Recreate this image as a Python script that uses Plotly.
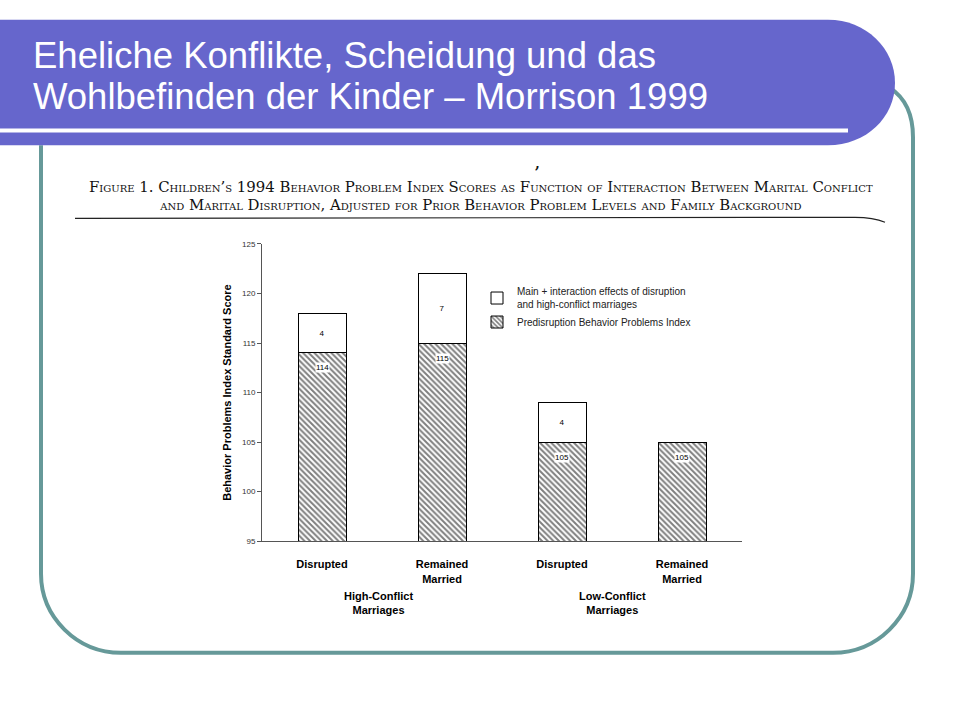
import plotly.graph_objects as go

W, H = 960, 720

# ---------------- data ----------------
groups = ["High-Conflict<br>Marriages", "Low-Conflict<br>Marriages"]
group_of_bar = [0, 0, 1, 1]
status = ["Disrupted", "Remained<br>Married", "Disrupted", "Remained<br>Married"]
predisruption = [114, 115, 105, 105]
effects = [4, 7, 4, 0]
y_ticks = [95, 100, 105, 110, 115, 120, 125]
y_range = [95, 125]

slide_title_lines = ["Eheliche Konflikte, Scheidung und das",
                     "Wohlbefinden der Kinder – Morrison 1999"]
fig_title_1 = ("Figure 1. Children’s 1994 Behavior Problem Index Scores as Function of "
               "Interaction Between Marital Conflict")
fig_title_2 = ("and Marital Disruption, Adjusted for Prior Behavior Problem Levels "
               "and Family Background")
legend_effects = "Main + interaction effects of disruption<br>and high-conflict marriages"
legend_pre = "Predisruption Behavior Problems Index"
y_title = "Behavior Problems Index Standard Score"

# ---------------- helpers ----------------
def px(x):
    return x / W

def py(y):
    return 1 - y / H

def pt(x, y):
    return f"{x / W:.5f},{1 - y / H:.5f}"

SANS = "Liberation Sans, Arial, sans-serif"
SERIF = "DejaVu Serif, Liberation Serif, serif"
BANNER = "#6666CC"
TEAL = "#669999"

x_pos = list(range(len(status)))

fig = go.Figure()

fig.add_trace(go.Bar(
    x=x_pos, y=predisruption, name=legend_pre, width=0.4,
    marker=dict(color="white", line=dict(color="black", width=1),
                pattern=dict(shape="\\", fgcolor="black", bgcolor="white",
                             size=4, solidity=0.5)),
    hoverinfo="skip",
))
fig.add_trace(go.Bar(
    x=x_pos, y=effects, name=legend_effects, width=0.4,
    marker=dict(color="white", line=dict(color="black", width=1)),
    text=[str(v) if v else "" for v in effects], textposition="inside",
    insidetextanchor="middle", textangle=0,
    textfont=dict(size=8, color="black", family=SANS),
    hoverinfo="skip",
))

annotations = []
# value labels on hatched segments
for i, v in zip(x_pos, predisruption):
    annotations.append(dict(
        x=i, y=v, xref="x", yref="y", text=str(v), showarrow=False,
        yanchor="middle", yshift=-15, bgcolor="white", borderpad=0,
        font=dict(size=8, color="black", family=SANS),
    ))

# group labels under the category labels
for g, name in enumerate(groups):
    members = [x for x, gi in zip(x_pos, group_of_bar) if gi == g]
    annotations.append(dict(
        x=sum(members) / len(members), y=py(607), xref="x", yref="paper",
        xanchor="center", yanchor="middle", xshift=-4 if g == 0 else -10,
        text=name, showarrow=False, align="center",
        font=dict(size=11, color="black", family=SANS, weight="bold"),
    ))

# slide title (two lines)
for line, yc in zip(slide_title_lines, [52, 94]):
    annotations.append(dict(
        x=px(31), y=py(yc), xref="paper", yref="paper", xanchor="left", yanchor="middle",
        text=line, showarrow=False, align="left",
        font=dict(size=36.5, color="white", family=SANS),
    ))
# figure caption (one text block, tight line spacing)
cap_span = "<span style='font-size:14.9px'>{}</span>"
annotations.append(dict(
    x=px(481), y=py(194), xref="paper", yref="paper", xanchor="center", yanchor="middle",
    text=cap_span.format(fig_title_1) + "<br>" + cap_span.format(fig_title_2),
    showarrow=False, align="center",
    font=dict(size=13.5, color="#111", family=SERIF, variant="small-caps"),
))
annotations.append(dict(
    x=px(537), y=py(161), xref="paper", yref="paper", xanchor="center", yanchor="middle",
    text=",", showarrow=False, font=dict(size=14, color="#111", family=SERIF, weight="bold"),
))

shapes = [
    # teal rounded frame
    dict(type="path", xref="paper", yref="paper", layer="above",
         path=("M " + pt(41, 143) + " L " + pt(41, 577) +
               " C " + pt(41, 621) + " " + pt(77, 657) + " " + pt(121, 657) +
               " L " + pt(833, 657) +
               " C " + pt(877, 657) + " " + pt(913, 621) + " " + pt(913, 577) +
               " L " + pt(913, 135) +
               " C " + pt(913, 110) + " " + pt(905, 95) + " " + pt(890, 85)),
         line=dict(color=TEAL, width=4)),
    # banner
    dict(type="path", xref="paper", yref="paper", layer="above",
         path=("M " + pt(0, 16) + " L " + pt(828, 16) +
               " C " + pt(866, 16) + " " + pt(895, 45) + " " + pt(895, 80) +
               " C " + pt(895, 115) + " " + pt(866, 143) + " " + pt(828, 143) +
               " L " + pt(0, 143) + " Z"),
         fillcolor=BANNER, line=dict(width=0)),
    # white rule in banner
    dict(type="line", xref="paper", yref="paper", layer="above",
         x0=px(0), x1=px(848), y0=py(128), y1=py(128),
         line=dict(color="white", width=4)),
    # caption underline
    dict(type="path", xref="paper", yref="paper",
         path=("M " + pt(75, 217) + " L " + pt(855, 216) +
               " C " + pt(868, 216) + " " + pt(878, 218) + " " + pt(885, 221)),
         line=dict(color="#222", width=1.2)),
]

fig.update_layout(
    width=W, height=H,
    margin=dict(l=0, r=0, t=0, b=0),
    paper_bgcolor="white", plot_bgcolor="white",
    barmode="stack",
    showlegend=True,
    legend=dict(x=px(477), y=py(278), xanchor="left", yanchor="top",
                traceorder="reversed", bgcolor="rgba(0,0,0,0)",
                font=dict(size=10, color="#222", family=SANS),
                itemwidth=30, tracegroupgap=0),
    xaxis=dict(domain=[px(262), px(742)], range=[-0.5, 3.5],
               tickvals=x_pos, ticktext=status,
               showline=True, linecolor="#555", linewidth=1,
               showgrid=False, zeroline=False, ticks="",
               ticklabelstandoff=13,
               tickfont=dict(size=11, color="black", family=SANS, weight="bold")),
    yaxis=dict(domain=[py(544), py(243)], range=y_range, tickvals=y_ticks,
               showline=True, linecolor="#555", linewidth=1,
               showgrid=False, zeroline=False, ticks="outside", ticklen=4,
               tickcolor="#555",
               tickfont=dict(size=8, color="#333", family=SANS),
               title=dict(text=y_title, standoff=8,
                          font=dict(size=11, color="black", family=SANS, weight="bold"))),
    annotations=annotations,
    shapes=shapes,
)

fig.write_html("out.html",
               config={"displayModeBar": False},
               post_script="document.body.style.margin='0px';document.body.style.overflow='hidden';")
